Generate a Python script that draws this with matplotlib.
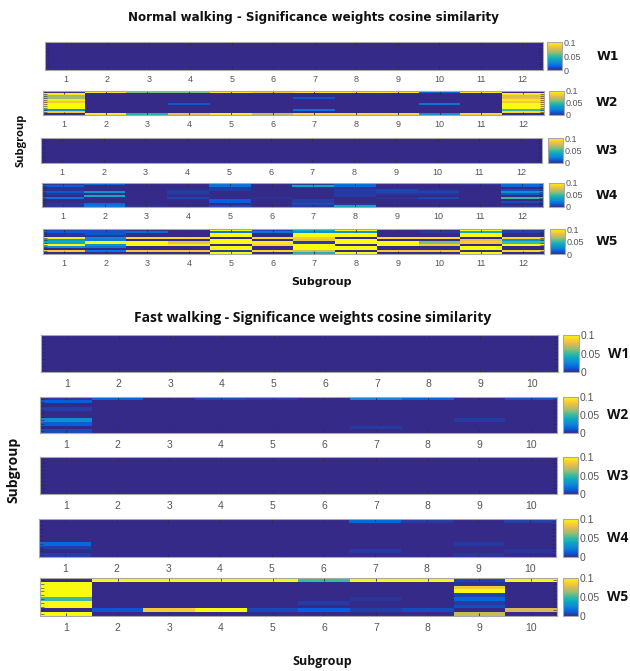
import matplotlib
matplotlib.use("Agg")
import numpy as np
from matplotlib import pyplot as plt
from matplotlib.colors import LinearSegmentedColormap

plt.rcParams['font.family'] = ['Liberation Sans', 'DejaVu Sans']

W = 630
H = 671

# parula like colours
parula = LinearSegmentedColormap.from_list("parula", [
    "#352a87", "#0363e1", "#1485d4", "#06a7c6", "#38b99e",
    "#92bf73", "#d9ba56", "#fcce2e", "#f9fb0e"])

subgroups_normal = [str(i) for i in range(1, 13)]
subgroups_fast = [str(i) for i in range(1, 11)]

# ---------------- normal walking, 12 x 12 ----------------
normal_w1 = [[0.0] * 12 for _ in range(12)]
normal_w3 = [[0.0] * 12 for _ in range(12)]

normal_w2 = [
    [0, .095, .06, .06, .095, .085, .095, .095, .095, .012, .095, 0],
    [.095, 0, 0, 0, 0, 0, 0, 0, 0, 0, 0, .095],
    [.065, 0, 0, 0, 0, 0, 0, 0, 0, 0, 0, .078],
    [.065, 0, 0, 0, 0, 0, .01, 0, 0, 0, 0, .08],
    [.095, 0, 0, 0, 0, 0, 0, 0, 0, 0, 0, .095],
    [.085, 0, 0, 0, 0, 0, 0, 0, 0, 0, 0, .085],
    [.11, 0, 0, .01, 0, 0, 0, 0, 0, .018, 0, .11],
    [.11, 0, 0, 0, 0, 0, 0, 0, 0, 0, 0, .11],
    [.11, 0, 0, 0, 0, 0, 0, 0, 0, 0, 0, .11],
    [.03, 0, 0, 0, 0, 0, .018, 0, 0, 0, 0, .05],
    [.085, 0, 0, 0, 0, 0, 0, 0, 0, 0, 0, .09],
    [0, .095, .045, .08, .095, .072, .09, .09, .09, .03, .09, 0],
]

normal_w4 = [
    [.003, .012, 0, 0, .018, 0, .003, .015, 0, 0, .003, .015],
    [.012, 0, 0, 0, .018, 0, .04, .015, 0, 0, 0, .015],
    [.002, 0, 0, 0, .004, 0, 0, .002, 0, 0, 0, 0],
    [.002, 0, 0, .002, .004, 0, 0, .004, .006, .002, 0, .008],
    [.01, .03, 0, .005, 0, 0, 0, .004, .006, .006, 0, .03],
    [.003, .002, 0, .003, 0, 0, 0, .004, .003, .002, 0, .01],
    [0, .04, 0, 0, 0, 0, 0, .004, 0, 0, 0, 0],
    [.018, 0, 0, .006, 0, .002, 0, 0, .002, .006, 0, .05],
    [0, 0, 0, 0, .012, 0, .005, 0, 0, 0, 0, 0],
    [0, 0, 0, 0, .012, 0, .005, 0, 0, 0, 0, .008],
    [.003, .015, 0, 0, 0, 0, .008, .003, 0, 0, 0, 0],
    [.002, .02, .002, 0, .006, 0, .002, .04, 0, 0, 0, .003],
]

normal_w5 = [
    [.006, .008, 0, 0, .1, .006, .04, .1, 0, 0, .1, .003],
    [.012, .01, .015, 0, .02, .018, .03, .03, 0, .004, .04, .006],
    [.003, .01, 0, 0, .1, 0, .1, .1, 0, 0, .1, 0],
    [.003, .003, 0, 0, .1, 0, .1, .1, 0, 0, .1, 0],
    [.095, .025, .09, .09, 0, .09, .085, 0, .09, .09, 0, .09],
    [.035, .022, 0, 0, .1, 0, .08, .1, 0, 0, .08, .03],
    [.04, .1, .1, .08, .1, .095, .005, .1, .1, .06, .085, .05],
    [.1, .03, .1, .095, 0, .09, .1, 0, .1, .085, 0, .1],
    [.03, .02, 0, 0, .1, 0, .1, .1, 0, 0, .1, 0],
    [0, 0, 0, 0, .1, 0, .1, .1, 0, 0, .1, 0],
    [.085, .02, .085, .085, .005, .09, .075, 0, .085, .085, 0, .09],
    [0, 0, 0, 0, .1, 0, .045, .1, 0, 0, .1, 0],
]

# ---------------- fast walking, 10 x 10 ----------------
fast_w1 = [[0.0] * 10 for _ in range(10)]
fast_w3 = [[0.0] * 10 for _ in range(10)]

fast_w2 = [
    [.003, .014, 0, .007, .004, 0, .025, .013, 0, .009],
    [.012, 0, 0, 0, 0, 0, 0, 0, 0, 0],
    [0, 0, 0, 0, 0, 0, 0, 0, 0, 0],
    [.005, 0, 0, 0, 0, 0, 0, 0, 0, 0],
    [0, 0, 0, 0, 0, 0, 0, 0, 0, 0],
    [0, 0, 0, 0, 0, 0, 0, 0, 0, 0],
    [.028, 0, 0, 0, 0, 0, 0, 0, .004, 0],
    [.012, 0, 0, 0, 0, 0, 0, 0, 0, 0],
    [0, 0, 0, 0, 0, 0, .004, 0, 0, 0],
    [.008, 0, 0, 0, 0, 0, 0, 0, 0, 0],
]

fast_w4 = [
    [0, 0, 0, 0, 0, 0, .014, .004, 0, .005],
    [0, 0, 0, 0, 0, 0, 0, 0, 0, 0],
    [0, 0, 0, 0, 0, 0, 0, 0, 0, 0],
    [0, 0, 0, 0, 0, 0, 0, 0, 0, 0],
    [0, 0, 0, 0, 0, 0, 0, 0, 0, 0],
    [0, 0, 0, 0, 0, 0, 0, 0, 0, 0],
    [.015, 0, 0, 0, 0, 0, 0, 0, .004, 0],
    [.005, 0, 0, 0, 0, 0, 0, 0, 0, 0],
    [0, 0, 0, 0, 0, 0, .004, 0, 0, .003],
    [.005, 0, 0, 0, 0, 0, 0, 0, .003, 0],
]

fast_w5 = [
    [0, .1, .1, .1, .1, .05, .1, .1, .006, .1],
    [.11, 0, 0, 0, 0, 0, 0, 0, .002, 0],
    [.11, 0, 0, 0, 0, 0, 0, 0, .085, 0],
    [.11, 0, 0, 0, 0, 0, 0, 0, .11, 0],
    [.11, 0, 0, 0, 0, 0, 0, 0, .006, 0],
    [.05, 0, 0, 0, 0, 0, .003, 0, .014, 0],
    [.11, 0, 0, 0, 0, .004, 0, 0, .004, 0],
    [.11, 0, 0, 0, 0, 0, 0, 0, .008, 0],
    [0, .01, .085, .11, .007, .012, .005, .008, 0, .075],
    [.1, 0, 0, 0, 0, 0, 0, 0, .072, 0],
]


def box(x0, y0, x1, y1):
    return [x0 / W, 1 - y1 / H, (x1 - x0) / W, (y1 - y0) / H]


def panel(data, labels, rect, cbar_rect, name, name_x, size, pad):
    ax = fig.add_axes(box(*rect))
    im = ax.imshow(np.array(data, dtype=float), cmap=parula, vmin=0, vmax=0.1,
                   aspect='auto', interpolation='nearest')
    n = len(labels)
    ax.set_xticks(range(n))
    ax.set_xticklabels(labels, fontsize=size, color="#555555")
    ax.set_yticks(range(n))
    ax.set_yticklabels([])
    ax.tick_params(axis='x', direction='in', length=2.5, width=0.6, color="#2b2b3a",
                   top=True, pad=pad)
    ax.tick_params(axis='y', direction='in', length=3, width=0.4, color="#23235a",
                   right=True)
    for s in ax.spines.values():
        s.set_color("#a8a8a8")
        s.set_linewidth(0.8)

    cax = fig.add_axes(box(*cbar_rect))
    cb = fig.colorbar(im, cax=cax, ticks=[0, 0.05, 0.1])
    cb.ax.set_yticklabels(['0', '0.05', '0.1'], fontsize=size, color="#555555")
    cb.ax.tick_params(length=0, pad=1.5)
    cb.outline.set_edgecolor("#a8a8a8")
    cb.outline.set_linewidth(0.8)

    mid = (rect[1] + rect[3]) / 2
    if size < 7:
        fig.text(name_x / W, 1 - mid / H, name, fontsize=9, fontweight='bold',
                 family=['DejaVu Sans'], ha='left', va='center', color="#111111")
    else:
        fig.text(name_x / W, 1 - mid / H, name, fontsize=10, fontweight='bold',
                 family=['Open Sans'], ha='left', va='center', color="#111111")


fig = plt.figure(figsize=(W / 100, H / 100), dpi=100)

panel(normal_w1, subgroups_normal, (45, 42, 543, 70), (547, 42, 562, 70), "W1", 597, 6.5, 3.5)
panel(normal_w2, subgroups_normal, (43, 91, 544, 115), (549, 91, 564, 115), "W2", 596, 6.5, 3.5)
panel(normal_w3, subgroups_normal, (41, 138, 542, 163), (548, 138, 563, 163), "W3", 596, 6.5, 3.5)
panel(normal_w4, subgroups_normal, (42, 183, 543, 207), (549, 183, 564, 207), "W4", 596, 6.5, 3.5)
panel(normal_w5, subgroups_normal, (43, 229, 544, 254), (550, 229, 565, 254), "W5", 596, 6.5, 3.5)

panel(fast_w1, subgroups_fast, (41, 335, 558, 372), (563, 335, 579, 372), "W1", 608, 7.5, 5)
panel(fast_w2, subgroups_fast, (40, 397, 557, 433), (563, 397, 578, 433), "W2", 607, 7.5, 5)
panel(fast_w3, subgroups_fast, (40, 457, 557, 494), (563, 457, 578, 494), "W3", 607, 7.5, 5)
panel(fast_w4, subgroups_fast, (39, 519, 556, 557), (563, 519, 578, 557), "W4", 607, 7.5, 5)
panel(fast_w5, subgroups_fast, (40, 578, 557, 616), (563, 578, 578, 616), "W5", 607, 7.5, 5)

fig.text(313 / W, 1 - 18 / H, "Normal walking - Significance weights cosine similarity",
         family=['DejaVu Sans'], fontsize=8.6, fontweight='bold', ha='center', va='center',
         color="#111111")
fig.text(313 / W, 1 - 318 / H, "Fast walking - Significance weights cosine similarity",
         family=['Open Sans'], fontsize=10, fontweight='bold', ha='center', va='center',
         color="#111111")
fig.text(322 / W, 1 - 282 / H, "Subgroup", family=['DejaVu Sans'], fontsize=8, fontweight='bold',
         ha='center', va='center', color="#111111")
fig.text(322 / W, 1 - 662 / H, "Subgroup", family=['Open Sans'], fontsize=9, fontweight='bold',
         ha='center', va='center', color="#111111")
fig.text(21 / W, 1 - 140 / H, "Subgroup", family=['Open Sans'], fontsize=8, fontweight='bold',
         rotation=90, ha='center', va='center', color="#111111")
fig.text(13 / W, 1 - 470 / H, "Subgroup", family=['Open Sans'], fontsize=10, fontweight='bold',
         rotation=90, ha='center', va='center', color="#111111")

plt.savefig('out.png', dpi=100)
